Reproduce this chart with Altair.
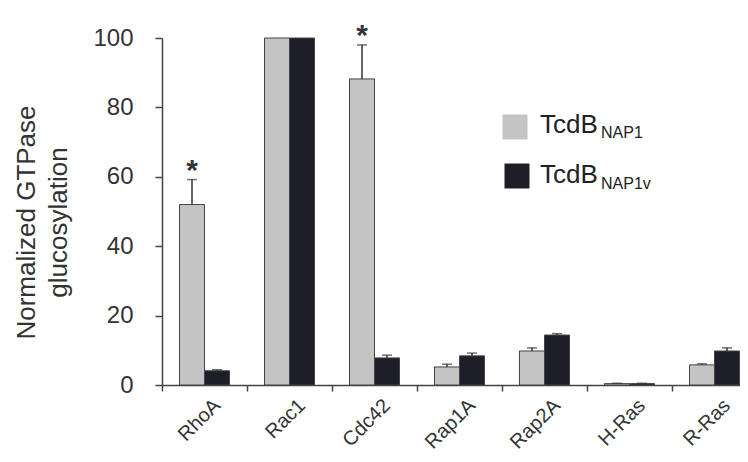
import altair as alt
import pandas as pd

categories = ["RhoA", "Rac1", "Cdc42", "Rap1A", "Rap2A", "H-Ras", "R-Ras"]
series_names = ["NAP1", "NAP1v"]
nap1 = [52.0, 100.0, 88.2, 5.2, 9.8, 0.4, 5.8]
nap1_err = [7.2, 0.0, 9.8, 0.8, 0.9, 0.1, 0.3]
nap1v = [4.1, 100.0, 7.8, 8.4, 14.4, 0.4, 9.8]
nap1v_err = [0.3, 0.0, 0.8, 0.8, 0.4, 0.1, 0.9]
nap1_star = ["*", "", "*", "", "", "", ""]
nap1v_star = ["", "", "", "", "", "", ""]
y_ticks = [0, 20, 40, 60, 80, 100]
y_title = ["Normalized GTPase", "glucosylation"]
legend_main = ["TcdB", "TcdB"]
legend_sub = ["NAP1", "NAP1v"]

rows = []
for s, vals, errs, stars in [
    (series_names[0], nap1, nap1_err, nap1_star),
    (series_names[1], nap1v, nap1v_err, nap1v_star),
]:
    for c, v, e, st in zip(categories, vals, errs, stars):
        rows.append({"cat": c, "series": s, "val": v, "top": v + e, "err": e, "star": st})
df = pd.DataFrame(rows)

GRAY = "#c4c4c4"
DARK = "#1e1e28"
TXT = "#333333"
FONT = "Liberation Sans"

x_enc = alt.X(
    "cat:N",
    sort=categories,
    scale=alt.Scale(domain=categories, range=[0, 595], paddingInner=0, paddingOuter=0),
    axis=alt.Axis(
        title=None,
        tickBand="extent",
        labelAngle=-45,
        labelFontSize=20,
        labelFont=FONT,
        labelColor=TXT,
        labelPadding=4,
        labelOffset=5,
        tickSize=6,
        tickColor="#444",
        tickWidth=1.5,
        domainColor="#444",
        domainWidth=1.5,
        grid=False,
    ),
)
xoff = alt.XOffset("series:N", sort=series_names,
                   scale=alt.Scale(domain=series_names, paddingInner=0, paddingOuter=0.7))
y_scale = alt.Scale(domain=[0, 100], nice=False)

base = alt.Chart(df)

bars = base.mark_bar(stroke="#444", strokeWidth=1).encode(
    x=x_enc,
    xOffset=xoff,
    y=alt.Y(
        "val:Q",
        scale=y_scale,
        axis=alt.Axis(
            values=y_ticks,
            title=y_title,
            titleFontSize=26,
            titleFont=FONT,
            titleFontWeight="normal",
            titleColor=TXT,
            titleLineHeight=32,
            titleX=-128,
            titleY=184,
            titleAngle=-90,
            titleAlign="center",
            titleBaseline="alphabetic",
            labelFontSize=24,
            labelFont=FONT,
            labelColor=TXT,
            labelPadding=22,
            tickSize=7,
            tickColor="#444",
            tickWidth=1.5,
            domainColor="#444",
            domainWidth=1.5,
            grid=False,
        ),
    ),
    color=alt.Color("series:N", scale=alt.Scale(domain=series_names, range=[GRAY, DARK]), legend=None),
)

err_df = base.transform_filter("datum.err > 0")
err_rule = err_df.mark_rule(color="#333", strokeWidth=1.5).encode(
    x=alt.X("cat:N", sort=categories),
    xOffset=xoff,
    y=alt.Y("val:Q", scale=y_scale),
    y2="top:Q",
)
err_cap = err_df.mark_tick(color="#333", thickness=1.5, size=10).encode(
    x=alt.X("cat:N", sort=categories),
    xOffset=xoff,
    y=alt.Y("top:Q", scale=y_scale),
)
stars = base.transform_filter("datum.star != ''").mark_text(
    fontSize=30, fontWeight="bold", font=FONT, color="#333", baseline="alphabetic", dy=0
).encode(
    x=alt.X("cat:N", sort=categories),
    xOffset=xoff,
    y=alt.Y("top:Q", scale=y_scale),
    text="star:N",
)

leg_df = pd.DataFrame({"series": series_names, "main": legend_main, "sub": legend_sub})
leg_layers = []
for i, (sx, sy, ty, sby) in enumerate([(353, 89, 95, 100), (355, 138, 145, 151)]):
    d = alt.Chart(leg_df.iloc[[i]])
    leg_layers.append(
        d.mark_square(size=625, opacity=1, color=[GRAY, DARK][i]).encode(
            x=alt.value(sx), y=alt.value(sy)
        )
    )
    leg_layers.append(
        d.mark_text(fontSize=26, font=FONT, color="#222", align="left", baseline="alphabetic").encode(
            x=alt.value(378), y=alt.value(ty), text="main:N"
        )
    )
    leg_layers.append(
        d.mark_text(fontSize=16, font=FONT, color="#222", align="left", baseline="alphabetic").encode(
            x=alt.value(439), y=alt.value(sby), text="sub:N"
        )
    )

chart = alt.layer(bars, err_rule, err_cap, stars, *leg_layers).properties(
    width=578,
    height=347,
    autosize=alt.AutoSizeParams(type="none"),
    padding={"left": 154, "top": 30, "right": 0, "bottom": 69},
    background="white",
).configure_view(strokeWidth=0)

chart.save("out.html", embed_options={"renderer": "svg", "actions": False})
